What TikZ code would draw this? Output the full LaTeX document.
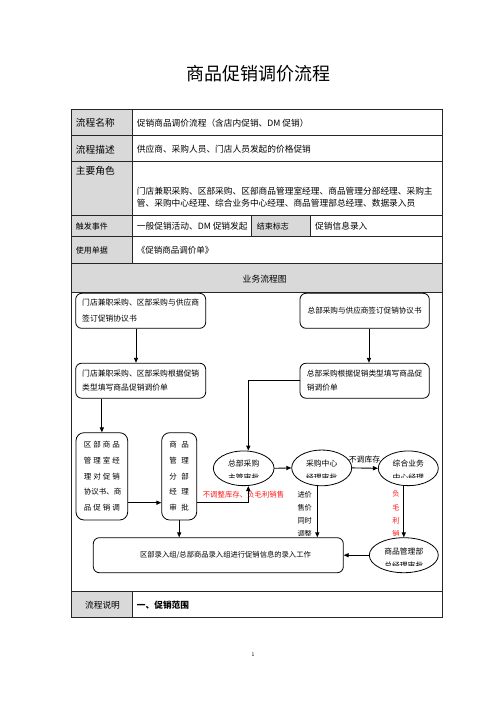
\documentclass[tikz,border=0pt]{standalone}
\usepackage{fontspec}
\setmainfont{Noto Sans CJK SC}
\usetikzlibrary{arrows.meta,shapes.geometric,calc}
\definecolor{hdr}{HTML}{D9D9D9}
\definecolor{redtxt}{HTML}{FF1A1A}
\begin{document}
\begin{tikzpicture}[x=1pt,y=-1pt,
  fs/.style={font=\fontsize{#1}{#1}\selectfont},
  fsl/.style 2 args={font=\fontsize{#1}{#2}\selectfont},
  cell/.style={inner sep=0pt,anchor=west},
  tline/.style={line width=0.8pt,draw=black!85},
  box/.style={draw,rounded corners=6pt,line width=0.8pt,inner sep=0pt},
  tallbox/.style={draw,rounded corners=8pt,line width=0.8pt,inner sep=0pt},
  ell/.style={draw,ellipse,line width=0.8pt,inner sep=0pt},
  arr/.style={-{Triangle[length=5pt,width=4.2pt]},line width=0.9pt},
  lbl/.style={inner sep=0pt,align=center}]
\useasboundingbox (0,0) rectangle (496,702);
% title
\node[fs=18] (title) at (258,74) {商品促销调价流程};
% table fills
\fill[hdr] (71.7,109.3) rectangle (132,263.3);
\fill[hdr] (251.7,215) rectangle (310,236.7);
\fill[hdr] (71.7,263.3) rectangle (442.5,292);
\fill[hdr] (71.7,591) rectangle (132,617);
% table lines
\draw[tline] (71.7,109.3) rectangle (442.5,617);
\foreach \yy in {135,161.7,215,236.7,263.3,292,591}
  \draw[tline] (71.7,\yy) -- (442.5,\yy);
\draw[tline] (132,109.3) -- (132,263.3);
\draw[tline] (132,591) -- (132,617);
\draw[tline] (251.7,215) -- (251.7,236.7);
\draw[tline] (310,215) -- (310,236.7);
% table texts
\node[cell,fs=9.7] (h1) at (75.7,122.7) {流程名称};
\node[cell,fs=8.7] (c1) at (136.7,122.7) {促销商品调价流程（含店内促销、DM 促销）};
\node[cell,fs=9.7] (h2) at (75.7,149.3) {流程描述};
\node[cell,fs=8.7] (c2) at (136.7,149.3) {供应商、采购人员、门店人员发起的价格促销};
\node[cell,fs=9.7] (h3) at (75.7,171) {主要角色};
\node[cell,fs=8.7] (c3a) at (136.7,190.7) {门店兼职采购、区部采购、区部商品管理室经理、商品管理分部经理、采购主};
\node[cell,fs=8.7] (c3b) at (136.7,203.3) {管、采购中心经理、综合业务中心经理、商品管理部总经理、数据录入员};
\node[cell,fs=8] (h4) at (75.7,226) {触发事件};
\node[cell,fs=8.7] (c4) at (136.7,226) {一般促销活动、DM 促销发起};
\node[cell,fs=8] (h4b) at (256.7,226) {结束标志};
\node[cell,fs=8.7] (c4b) at (315,226) {促销信息录入};
\node[cell,fs=8] (h5) at (75.7,250) {使用单据};
\node[cell,fs=8.5] (c5) at (136.7,250) {《促销商品调价单》};
\node[fs=8.8,inner sep=0pt] (hflow) at (264.7,279) {业务流程图};
\node[fs=8.7,inner sep=0pt] (h6) at (102.5,605) {流程说明};
\node[cell,fs=8.7] (c6) at (136.7,605) {\bfseries 一、促销范围};
\node[fs=5,inner sep=0pt] (pg) at (253,655) {1};
% flow boxes
\node[box,minimum width=130pt,minimum height=35pt,align=left,fsl={7.8}{15.7}] (A) at (140.7,310.8)
  {门店兼职采购、区部采购与供应商\\签订促销协议书};
\node[box,minimum width=129.3pt,minimum height=35pt,fs=7.6] (B) at (364.65,310.8)
  {总部采购与供应商签订促销协议书};
\node[box,minimum width=130pt,minimum height=35pt,align=left,fsl={7.8}{14.3}] (C) at (140.7,380.7)
  {门店兼职采购、区部采购根据促销\\类型填写商品促销调价单};
\node[box,minimum width=129.3pt,minimum height=35pt,align=left,fsl={7.7}{14.3}] (D) at (364.65,380.7)
  {总部采购根据促销类型填写商品促\\销调价单\phantom{型填写商品促销调价单}};
\node[tallbox,minimum width=51.7pt,minimum height=87.3pt,align=center,fsl={7.5}{15.7}] (E) at (101.85,476.35)
  {\makebox[36pt][s]{区\hfil 部\hfil 商\hfil 品}\\
   \makebox[36pt][s]{管\hfil 理\hfil 室\hfil 经}\\
   \makebox[36pt][s]{理\hfil 对\hfil 促\hfil 销}\\
   \makebox[36pt][s]{协\hfil 议\hfil 书、商}\\
   \makebox[36pt][s]{品\hfil 促\hfil 销\hfil 调}};
\node[tallbox,minimum width=35pt,minimum height=87.3pt,align=center,fsl={7.5}{15.7}] (F) at (179.2,476.35)
  {\makebox[19.5pt][s]{商\hfil 品}\\
   \makebox[19.5pt][s]{管\hfil 理}\\
   \makebox[19.5pt][s]{分\hfil 部}\\
   \makebox[19.5pt][s]{经\hfil 理}\\
   \makebox[19.5pt][s]{审\hfil 批}};
\node[box,minimum width=250pt,minimum height=35pt] (G) at (218.3,555.2) {};
\node[fs=7.3,inner sep=0pt] (Gt) at (225.5,555.5) {区部录入组/总部商品录入组进行促销信息的录入工作};
% ellipses
\node[ell,minimum width=60.7pt,minimum height=34.7pt] (H) at (243.7,468.3) {};
\node[ell,minimum width=60pt,minimum height=35.7pt] (I) at (321.7,467.9) {};
\node[ell,minimum width=60pt,minimum height=34.7pt] (J) at (408.3,468.3) {};
\node[ell,minimum width=69pt,minimum height=35pt] (K) at (403.8,555.2) {};
\begin{scope}
  \clip (210,450) rectangle (278,477.3);
  \node[lbl,fsl={7.8}{14}] (Ht) at (243.7,471) {总部采购\\主管审批};
\end{scope}
\begin{scope}
  \clip (290,450) rectangle (354,477.3);
  \node[lbl,fsl={7.8}{14}] (It) at (321.7,471) {采购中心\\经理审批};
\end{scope}
\begin{scope}
  \clip (376,450) rectangle (440,477.3);
  \node[lbl,fsl={7.8}{14}] (Jt) at (408.3,471) {综合业务\\中心经理};
\end{scope}
\begin{scope}
  \clip (368,537) rectangle (440,565);
  \node[lbl,fsl={7.8}{14}] (Kt) at (403.8,558.7) {商品管理部\\总经理审批};
\end{scope}
% labels
\node[lbl,fs=7.4,text=redtxt] (L1) at (243.5,494.3) {不调整库存、负毛利销售};
\node[lbl,fs=7.8] (L2) at (364.5,460) {不调库存};
\begin{scope}
  \clip (290,485) rectangle (320,535.7);
  \node[lbl,fsl={7.2}{13.1}] (L3) at (304.7,513.9) {进价\\售价\\同时\\调整};
\end{scope}
\begin{scope}
  \clip (385,485) rectangle (402,535.7);
  \node[lbl,fsl={7.2}{13.1},text=redtxt] (L4) at (396,513.9) {负\\毛\\利\\销};
\end{scope}
% connectors
\draw[arr] ([xshift=-4.7pt]A.south) -- ([xshift=-4.7pt]C.north);
\draw[arr] ([xshift=4.3pt]B.south) -- ([xshift=4.3pt]D.north);
\draw[arr] (D.west) -| ([xshift=4.6pt]H.north);
\draw[arr] (C.south -| E.north) -- (E.north);
\draw[arr] ([yshift=-26.35pt]E.east) -- ([yshift=-26.35pt]F.west);
\draw[arr] ([yshift=-26.35pt]F.east) -| ([xshift=4.6pt]H.south);
\draw[arr] (H.east) -- (I.west);
\draw[arr] (I.east) -- (J.west);
\draw[arr] ([xshift=-4.4pt]I.south) -- ([xshift=-4.4pt]I.south |- G.north);
\draw[arr] (K.north |- J.south) -- (K.north);
\draw[arr] (F.south) -- (F.south |- G.north);
\draw[arr] (K.west) -- (G.east);
\end{tikzpicture}
\end{document}
